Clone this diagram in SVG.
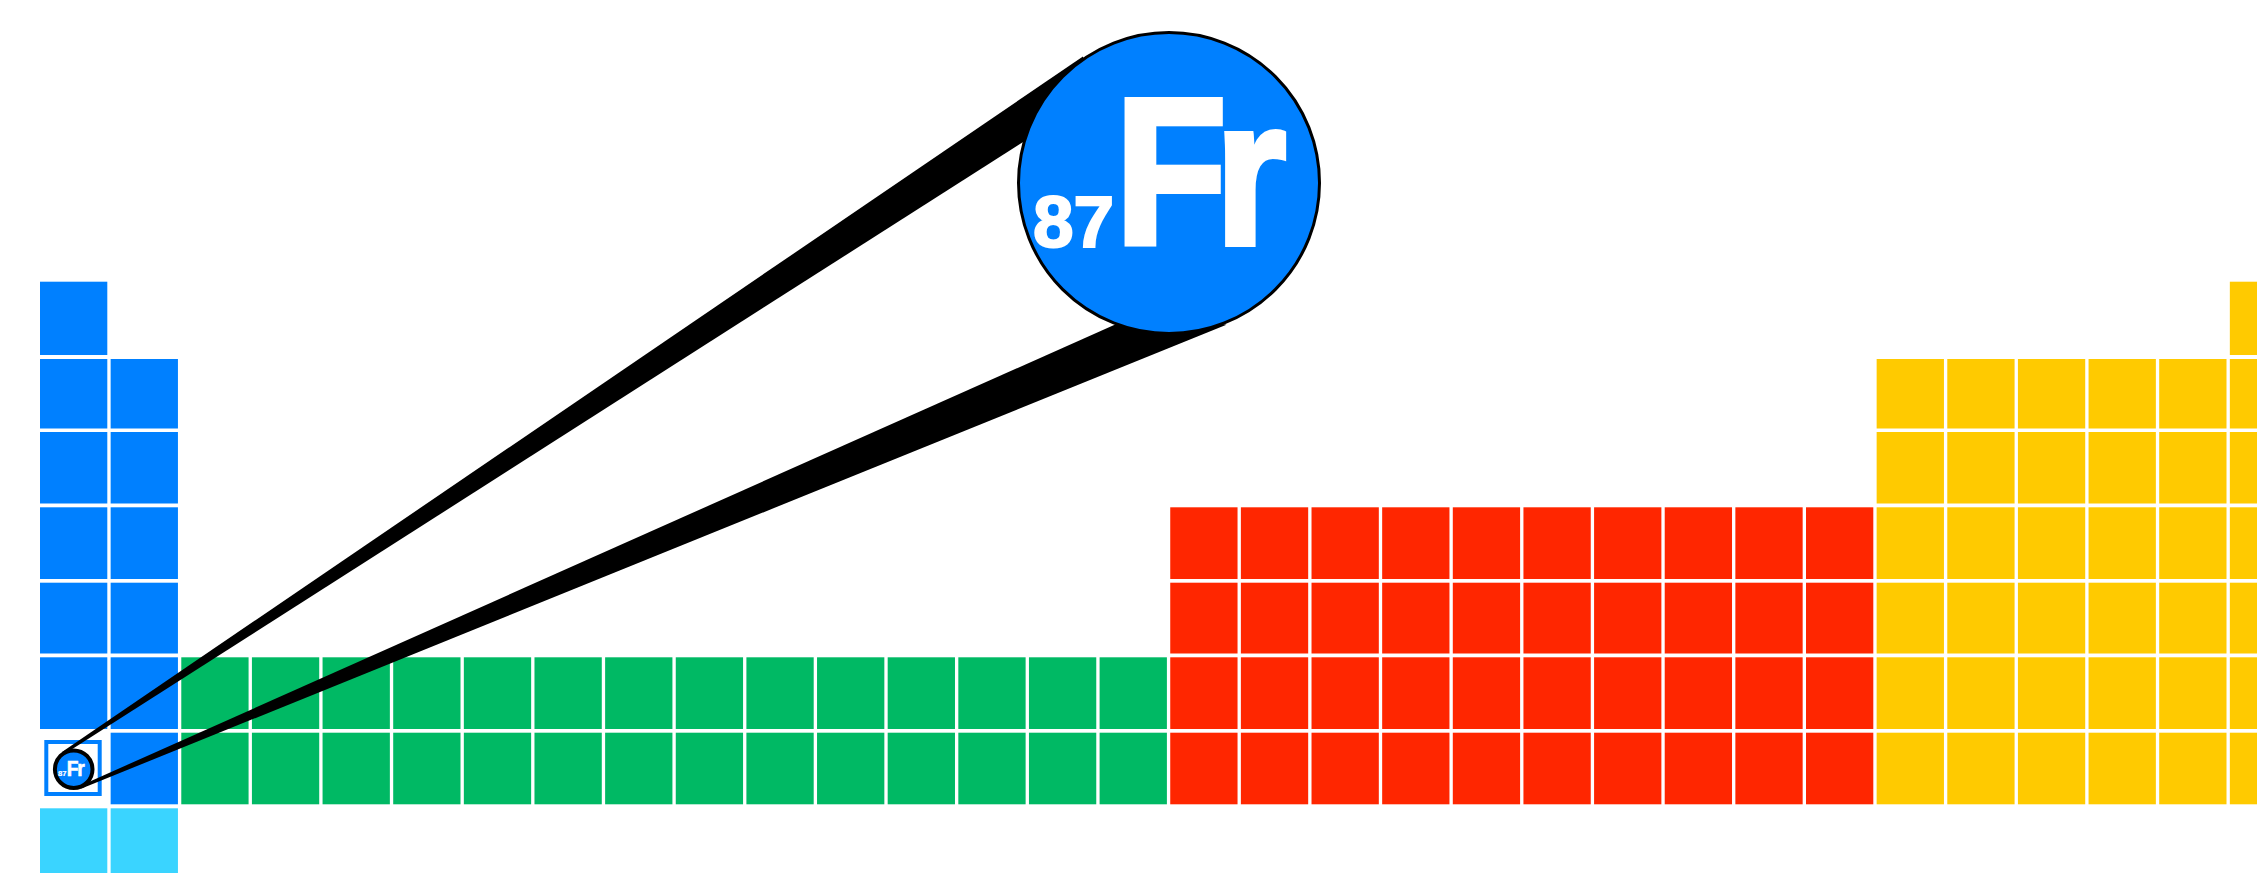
<svg xmlns="http://www.w3.org/2000/svg" width="2257" height="873" viewBox="0 0 2257 873">
<style>
.b{fill:#0080ff}.g{fill:#00b964}.r{fill:#ff2600}.y{fill:#ffca00}.c{fill:#3ad4ff}
.cone{fill:#000}
.lens{fill:#0080ff;stroke:#000}
.t{font-family:"Liberation Sans",Arial,sans-serif;font-weight:bold;fill:#fff;stroke:#fff}
.num{font-size:73px;stroke-width:2px}
.sym{font-size:208px;stroke-width:6px;letter-spacing:-13.4px}
</style>
<rect width="2257" height="873" fill="#fff"/>
<g id="s-block" class="b">
<rect x="40" y="281.7" width="67.3" height="73.3"/>
<rect x="40" y="359" width="67.3" height="69.5"/>
<rect x="40" y="432" width="67.3" height="71.5"/>
<rect x="40" y="507.3" width="67.3" height="71.7"/>
<rect x="40" y="582.7" width="67.3" height="70.8"/>
<rect x="40" y="657.3" width="67.3" height="71.7"/>
<rect x="110.64" y="359" width="67.3" height="69.5"/>
<rect x="110.64" y="432" width="67.3" height="71.5"/>
<rect x="110.64" y="507.3" width="67.3" height="71.7"/>
<rect x="110.64" y="582.7" width="67.3" height="70.8"/>
<rect x="110.64" y="657.3" width="67.3" height="71.7"/>
<rect x="110.64" y="732.7" width="67.3" height="71.6"/>
</g>
<g id="period-8" class="c">
<rect x="40" y="808.3" width="67.3" height="71.7"/>
<rect x="110.64" y="808.3" width="67.3" height="71.7"/>
</g>
<g id="f-block" class="g">
<rect x="181.28" y="657.3" width="67.3" height="71.7"/><rect x="181.28" y="732.7" width="67.3" height="71.6"/>
<rect x="251.92" y="657.3" width="67.3" height="71.7"/><rect x="251.92" y="732.7" width="67.3" height="71.6"/>
<rect x="322.56" y="657.3" width="67.3" height="71.7"/><rect x="322.56" y="732.7" width="67.3" height="71.6"/>
<rect x="393.2" y="657.3" width="67.3" height="71.7"/><rect x="393.2" y="732.7" width="67.3" height="71.6"/>
<rect x="463.84" y="657.3" width="67.3" height="71.7"/><rect x="463.84" y="732.7" width="67.3" height="71.6"/>
<rect x="534.48" y="657.3" width="67.3" height="71.7"/><rect x="534.48" y="732.7" width="67.3" height="71.6"/>
<rect x="605.12" y="657.3" width="67.3" height="71.7"/><rect x="605.12" y="732.7" width="67.3" height="71.6"/>
<rect x="675.76" y="657.3" width="67.3" height="71.7"/><rect x="675.76" y="732.7" width="67.3" height="71.6"/>
<rect x="746.4" y="657.3" width="67.3" height="71.7"/><rect x="746.4" y="732.7" width="67.3" height="71.6"/>
<rect x="817.04" y="657.3" width="67.3" height="71.7"/><rect x="817.04" y="732.7" width="67.3" height="71.6"/>
<rect x="887.68" y="657.3" width="67.3" height="71.7"/><rect x="887.68" y="732.7" width="67.3" height="71.6"/>
<rect x="958.32" y="657.3" width="67.3" height="71.7"/><rect x="958.32" y="732.7" width="67.3" height="71.6"/>
<rect x="1028.96" y="657.3" width="67.3" height="71.7"/><rect x="1028.96" y="732.7" width="67.3" height="71.6"/>
<rect x="1099.6" y="657.3" width="67.3" height="71.7"/><rect x="1099.6" y="732.7" width="67.3" height="71.6"/>
</g>
<g id="d-block" class="r">
<rect x="1170.24" y="507.3" width="67.3" height="71.7"/><rect x="1170.24" y="582.7" width="67.3" height="70.8"/><rect x="1170.24" y="657.3" width="67.3" height="71.7"/><rect x="1170.24" y="732.7" width="67.3" height="71.6"/>
<rect x="1240.88" y="507.3" width="67.3" height="71.7"/><rect x="1240.88" y="582.7" width="67.3" height="70.8"/><rect x="1240.88" y="657.3" width="67.3" height="71.7"/><rect x="1240.88" y="732.7" width="67.3" height="71.6"/>
<rect x="1311.52" y="507.3" width="67.3" height="71.7"/><rect x="1311.52" y="582.7" width="67.3" height="70.8"/><rect x="1311.52" y="657.3" width="67.3" height="71.7"/><rect x="1311.52" y="732.7" width="67.3" height="71.6"/>
<rect x="1382.16" y="507.3" width="67.3" height="71.7"/><rect x="1382.16" y="582.7" width="67.3" height="70.8"/><rect x="1382.16" y="657.3" width="67.3" height="71.7"/><rect x="1382.16" y="732.7" width="67.3" height="71.6"/>
<rect x="1452.8" y="507.3" width="67.3" height="71.7"/><rect x="1452.8" y="582.7" width="67.3" height="70.8"/><rect x="1452.8" y="657.3" width="67.3" height="71.7"/><rect x="1452.8" y="732.7" width="67.3" height="71.6"/>
<rect x="1523.44" y="507.3" width="67.3" height="71.7"/><rect x="1523.44" y="582.7" width="67.3" height="70.8"/><rect x="1523.44" y="657.3" width="67.3" height="71.7"/><rect x="1523.44" y="732.7" width="67.3" height="71.6"/>
<rect x="1594.08" y="507.3" width="67.3" height="71.7"/><rect x="1594.08" y="582.7" width="67.3" height="70.8"/><rect x="1594.08" y="657.3" width="67.3" height="71.7"/><rect x="1594.08" y="732.7" width="67.3" height="71.6"/>
<rect x="1664.72" y="507.3" width="67.3" height="71.7"/><rect x="1664.72" y="582.7" width="67.3" height="70.8"/><rect x="1664.72" y="657.3" width="67.3" height="71.7"/><rect x="1664.72" y="732.7" width="67.3" height="71.6"/>
<rect x="1735.36" y="507.3" width="67.3" height="71.7"/><rect x="1735.36" y="582.7" width="67.3" height="70.8"/><rect x="1735.36" y="657.3" width="67.3" height="71.7"/><rect x="1735.36" y="732.7" width="67.3" height="71.6"/>
<rect x="1806" y="507.3" width="67.3" height="71.7"/><rect x="1806" y="582.7" width="67.3" height="70.8"/><rect x="1806" y="657.3" width="67.3" height="71.7"/><rect x="1806" y="732.7" width="67.3" height="71.6"/>
</g>
<g id="p-block" class="y">
<rect x="2229.84" y="281.7" width="67.3" height="73.3"/>
<rect x="1876.64" y="359" width="67.3" height="69.5"/><rect x="1876.64" y="432" width="67.3" height="71.5"/><rect x="1876.64" y="507.3" width="67.3" height="71.7"/><rect x="1876.64" y="582.7" width="67.3" height="70.8"/><rect x="1876.64" y="657.3" width="67.3" height="71.7"/><rect x="1876.64" y="732.7" width="67.3" height="71.6"/>
<rect x="1947.28" y="359" width="67.3" height="69.5"/><rect x="1947.28" y="432" width="67.3" height="71.5"/><rect x="1947.28" y="507.3" width="67.3" height="71.7"/><rect x="1947.28" y="582.7" width="67.3" height="70.8"/><rect x="1947.28" y="657.3" width="67.3" height="71.7"/><rect x="1947.28" y="732.7" width="67.3" height="71.6"/>
<rect x="2017.92" y="359" width="67.3" height="69.5"/><rect x="2017.92" y="432" width="67.3" height="71.5"/><rect x="2017.92" y="507.3" width="67.3" height="71.7"/><rect x="2017.92" y="582.7" width="67.3" height="70.8"/><rect x="2017.92" y="657.3" width="67.3" height="71.7"/><rect x="2017.92" y="732.7" width="67.3" height="71.6"/>
<rect x="2088.56" y="359" width="67.3" height="69.5"/><rect x="2088.56" y="432" width="67.3" height="71.5"/><rect x="2088.56" y="507.3" width="67.3" height="71.7"/><rect x="2088.56" y="582.7" width="67.3" height="70.8"/><rect x="2088.56" y="657.3" width="67.3" height="71.7"/><rect x="2088.56" y="732.7" width="67.3" height="71.6"/>
<rect x="2159.2" y="359" width="67.3" height="69.5"/><rect x="2159.2" y="432" width="67.3" height="71.5"/><rect x="2159.2" y="507.3" width="67.3" height="71.7"/><rect x="2159.2" y="582.7" width="67.3" height="70.8"/><rect x="2159.2" y="657.3" width="67.3" height="71.7"/><rect x="2159.2" y="732.7" width="67.3" height="71.6"/>
<rect x="2229.84" y="359" width="67.3" height="69.5"/><rect x="2229.84" y="432" width="67.3" height="71.5"/><rect x="2229.84" y="507.3" width="67.3" height="71.7"/><rect x="2229.84" y="582.7" width="67.3" height="70.8"/><rect x="2229.84" y="657.3" width="67.3" height="71.7"/><rect x="2229.84" y="732.7" width="67.3" height="71.6"/>
</g>
<g id="fr-cell">
<rect x="46.3" y="742" width="53.4" height="52" fill="#fff" stroke="#0080ff" stroke-width="4"/>
</g>
<g id="connectors">
<polygon class="cone" points="63.7,754.5 62,752 1082.9,56.5 1100,92.8"/>
<polygon class="cone" points="80.4,785.7 81.5,788.5 1226.4,324.8 1150,308.9"/>
</g>
<g id="small-lens">
<circle class="lens" cx="73.7" cy="769.2" r="18.8" stroke-width="4"/>
<g transform="translate(-50.4,750.1) scale(0.105)">
<text class="t num" x="1033" y="247">87</text>
<text class="t sym" transform="translate(1115,244.3) scale(0.88,1)" x="0" y="0">Fr</text>
</g>
</g>
<g id="big-lens">
<circle class="lens" cx="1169" cy="183" r="150.5" stroke-width="3"/>
<text class="t num" x="1033" y="247">87</text>
<text class="t sym" transform="translate(1115,244.3) scale(0.88,1)" x="0" y="0">Fr</text>
</g>
</svg>
